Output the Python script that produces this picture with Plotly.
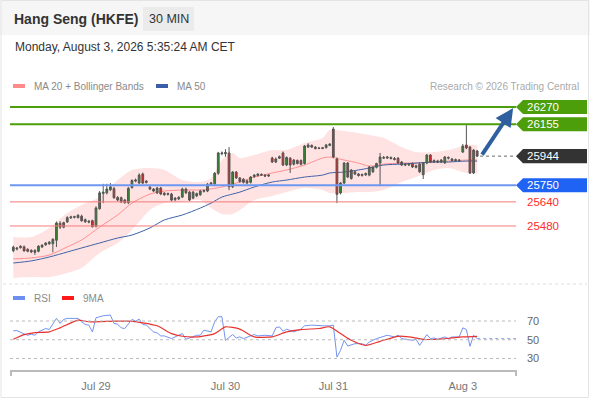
import plotly.graph_objects as go

# ---------------- data ----------------
opens = [25316,25327,25336,25342,25325,25318,25305,25312,25340,25355,25362,25362,25385,25498,25472,25507,25533,25538,25535,25545,
         25522,25512,25515,25478,25595,25695,25700,25720,25728,25670,25668,25652,25635,25735,25778,25765,25825,25778,25738,25725,
         25700,25732,25698,25690,25692,25655,25660,25672,25725,25705,25665,25680,25688,25710,25712,25758,25760,25830,25960,25960,
         25965,25740,25838,25799,25790,25780,25770,25808,25815,25822,25818,25812,25931,25905,25930,25965,25885,25930,25890,25915,
         25915,25895,26004,26015,26004,25998,25995,26000,26015,26124,25925,25699,25765,25898,25795,25840,25825,25815,25820,25818,
         25840,25870,25898,25935,25931,25935,25928,25930,25905,25890,25885,25895,25880,25891,25820,25898,25951,25905,25912,25905,
         25900,25930,25925,25915,25918,25971,26018,26004,25832,25978]
highs = [25350,25340,25352,25350,25332,25325,25325,25352,25360,25372,25380,25398,25510,25512,25508,25545,25548,25548,25558,25555,
         25530,25520,25522,25610,25712,25760,25760,25765,25740,25678,25675,25660,25740,25790,25795,25830,25835,25785,25745,25732,
         25740,25740,25705,25702,25700,25672,25678,25735,25735,25712,25712,25702,25720,25722,25765,25772,25838,25972,25975,25990,
         26004,25845,25845,25805,25798,25788,25812,25825,25830,25830,25825,25825,25940,25935,25948,25975,25942,25938,25925,25922,
         25922,26018,26030,26022,26010,26005,26005,26025,26030,26137,25935,25772,25905,25905,25858,25848,25832,25828,25835,25878,
         25876,25900,25965,25945,25945,25942,25938,25938,25912,25898,25898,25902,25888,25898,25905,25958,25958,25922,25920,25925,
         25945,25942,25932,25928,25925,26025,26150,26012,25990,25985]
lows = [25305,25318,25330,25310,25305,25300,25288,25305,25335,25348,25355,25305,25340,25460,25465,25500,25528,25530,25530,25508,
        25500,25498,25470,25470,25588,25632,25690,25712,25660,25645,25632,25628,25625,25728,25770,25760,25758,25762,25718,25705,
        25692,25685,25680,25682,25645,25645,25652,25665,25692,25645,25658,25672,25680,25702,25705,25750,25752,25820,25950,25940,
        25718,25732,25792,25768,25762,25758,25762,25800,25808,25812,25805,25805,25898,25898,25925,25878,25878,25832,25882,25888,
        25882,25888,25998,25998,25988,25990,25990,25995,26010,25930,25632,25690,25758,25798,25788,25818,25808,25808,25812,25810,
        25832,25862,25752,25925,25925,25922,25915,25892,25878,25878,25878,25865,25862,25832,25792,25890,25898,25898,25898,25898,
        25892,25922,25908,25908,25908,25965,25990,25825,25825,25938]
closes = [25339,25333,25345,25314,25312,25308,25318,25346,25352,25367,25372,25392,25500,25472,25502,25535,25540,25542,25551,25515,
          25508,25506,25475,25600,25700,25705,25726,25740,25668,25652,25640,25635,25730,25782,25785,25818,25765,25770,25725,25712,
          25732,25692,25688,25695,25652,25665,25670,25725,25700,25652,25705,25695,25712,25715,25758,25765,25830,25965,25965,25968,
          25740,25838,25799,25775,25770,25765,25805,25818,25825,25818,25812,25818,25905,25925,25940,25885,25935,25885,25918,25895,
          25890,26011,26018,26004,25995,25995,25999,26018,26024,25938,25690,25765,25898,25805,25852,25825,25815,25822,25828,25872,
          25870,25895,25938,25931,25938,25928,25922,25898,25885,25885,25890,25872,25870,25840,25898,25951,25905,25915,25905,25918,
          25938,25935,25915,25920,25915,26011,25998,25832,25984,25944]

# overlays read at sampled bar positions
ov_idx   = [0,5,10,15,19,24,29,33,38,42,47,52,55,58,61,63,67,72,76,81,86,88,92,96,99,103,108,112,117,121,126,129]
bb_upper = [25407,25407,25467,25566,25619,25672,25785,25852,25865,25852,25785,25772,25799,25918,25965,25931,25951,25984,25984,
            26031,26064,26117,26111,26097,26084,26064,26004,25971,25971,25984,26018,26018]
ma20     = [25261,25268,25287,25341,25387,25473,25553,25632,25692,25712,25719,25719,25726,25739,25759,25772,25805,25832,25852,
            25885,25931,25938,25918,25898,25878,25891,25898,25898,25905,25911,25918,25918]
bb_lower = [25135,25141,25141,25168,25201,25301,25367,25453,25586,25632,25639,25652,25599,25560,25560,25586,25652,25679,25705,
            25732,25719,25699,25699,25705,25705,25719,25772,25805,25852,25865,25832,25832]
ma50     = [25234,25248,25274,25307,25334,25367,25400,25420,25467,25520,25553,25599,25632,25672,25692,25705,25739,25772,25785,
            25805,25818,25832,25838,25852,25865,25885,25891,25898,25905,25905,25911,25911]

rsi_idx = [0,1,3,4,5,6,7,8,9,10,12,13,14,15,17,18,19,20,21,22,23,25,27,28,29,30,31,33,34,35,36,37,39,40,41,42,44,45,47,48,49,
           51,52,53,55,56,57,58,59,61,62,63,64,67,68,70,72,73,74,75,76,77,78,80,81,83,85,86,88,89,90,91,92,93,95,97,98,99,
           101,103,104,106,107,108,110,111,112,113,115,116,117,118,120,121,122,124,125,126,127,128,129]
rsi_val = [59.5,59.8,56.2,54.8,55.9,54.8,58.4,60.2,62.0,60.9,72.8,67.4,71.7,72.8,72.8,72.8,69.2,66.3,65.6,58.4,73.5,75.6,76.4,
           67.4,66.7,62.7,62.0,71.7,69.9,72.0,66.3,65.6,58.4,57.3,54.1,54.1,51.2,53.0,56.6,50.5,51.9,54.8,54.8,60.2,58.4,69.2,
           74.6,74.6,49.4,55.5,51.9,53.0,51.2,55.5,54.1,54.8,54.1,62.7,63.8,59.1,61.3,60.2,58.4,61.3,64.9,65.6,64.9,64.9,64.9,
           65.6,31.5,38.6,49.4,43.3,45.8,45.8,44.0,47.6,51.2,54.1,54.8,53.0,54.8,51.2,50.5,49.4,50.5,44.0,55.5,51.2,51.9,50.5,
           53.0,51.2,53.0,53.0,62.7,60.9,43.0,54.8,51.2]
ma9_idx = [0,3,6,10,13,18,21,28,32,36,40,44,47,51,56,59,63,67,72,76,80,85,88,91,94,98,102,107,110,114,118,122,125,129]
ma9_val = [50.5,55.5,57.7,58.4,62.7,71.0,69.2,69.9,69.9,68.1,64.9,56.6,53.7,53.0,56.6,63.8,61.3,53.0,53.0,58.4,60.9,62.0,63.8,
           56.6,49.4,44.0,48.3,53.7,53.0,50.5,50.5,51.9,53.0,53.7]

tick_idx = [23, 59, 89, 125]
tick_txt = ["Jul 29", "Jul 30", "Jul 31", "Aug 3"]

res_levels = [26270, 26155]
piv_level = 25750
sup_levels = [25640, 25480]
last_price = 25944
target_idx = 139.0
target_price = 26263

# ---------------- layout helpers (pixel placement) ----------------
L, R, T, B = 10, 516, 95, 370
def px(X):
    return (X - L) / (R - L)
def py(Y):
    return (B - Y) / (B - T)

FONT = "Liberation Sans, Arial, sans-serif"
n = len(closes)
xs = list(range(n))
XR = [-0.92, 139.8]
YR = [25088, 26350]

fig = go.Figure()

# Bollinger band + MAs on base price subplot
fig.add_trace(go.Scatter(x=ov_idx, y=bb_upper, mode="lines", line=dict(width=0, shape="spline", smoothing=0.8),
                         xaxis="x", yaxis="y", hoverinfo="skip", showlegend=False))
fig.add_trace(go.Scatter(x=ov_idx, y=bb_lower, mode="lines", line=dict(width=0, shape="spline", smoothing=0.8),
                         fill="tonexty", fillcolor="#ffe2e2", xaxis="x", yaxis="y", hoverinfo="skip", showlegend=False))
fig.add_trace(go.Scatter(x=ov_idx, y=ma20, mode="lines", line=dict(width=1, color="#ff8f8f", shape="spline", smoothing=0.8),
                         xaxis="x", yaxis="y", hoverinfo="skip", showlegend=False))
fig.add_trace(go.Scatter(x=ov_idx, y=ma50, mode="lines", line=dict(width=1, color="#3f63a8", shape="spline", smoothing=0.8),
                         xaxis="x", yaxis="y", hoverinfo="skip", showlegend=False))

# candles on an overlaying subplot so they sit above the band
fig.add_trace(go.Candlestick(x=xs, open=opens, high=highs, low=lows, close=closes,
                             increasing=dict(fillcolor="#2e8a2e", line=dict(color="#555555", width=1)),
                             decreasing=dict(fillcolor="#e5221c", line=dict(color="#555555", width=1)),
                             whiskerwidth=0, xaxis="x3", yaxis="y3", showlegend=False))

# last price dotted extension
fig.add_trace(go.Scatter(x=[n - 0.2, XR[1]], y=[last_price, last_price], mode="lines",
                         line=dict(color="#666666", width=1, dash="dot"), xaxis="x3", yaxis="y3",
                         hoverinfo="skip", showlegend=False))

# RSI
fig.add_trace(go.Scatter(x=rsi_idx, y=rsi_val, mode="lines", line=dict(color="#7393f0", width=1),
                         xaxis="x2", yaxis="y2", hoverinfo="skip", showlegend=False))
fig.add_trace(go.Scatter(x=ma9_idx, y=ma9_val, mode="lines", line=dict(color="#e8332f", width=1.2, shape="spline", smoothing=0.6),
                         xaxis="x2", yaxis="y2", hoverinfo="skip", showlegend=False))
fig.add_trace(go.Scatter(x=[rsi_idx[-1], XR[1]], y=[rsi_val[-1], rsi_val[-1]], mode="lines",
                         line=dict(color="#8aa3f0", width=1, dash="dot"), xaxis="x2", yaxis="y2",
                         hoverinfo="skip", showlegend=False))

shapes = []
ann = []

# background header band and frame
shapes.append(dict(type="rect", xref="paper", yref="paper", x0=px(0), x1=px(590), y0=py(35), y1=py(0),
                   fillcolor="#f6f6f6", line=dict(width=0), layer="below"))
shapes.append(dict(type="rect", xref="paper", yref="paper", x0=px(1), x1=px(588.5), y0=py(397.5), y1=py(0.5),
                   fillcolor="rgba(0,0,0,0)", line=dict(color="#e4e4e4", width=1), layer="below"))
shapes.append(dict(type="rect", xref="paper", yref="paper", x0=px(143), x1=px(194), y0=py(31), y1=py(7),
                   fillcolor="#ebebeb", line=dict(width=0), layer="below"))
# panel separator
shapes.append(dict(type="line", xref="paper", yref="paper", x0=px(3), x1=px(587), y0=py(284), y1=py(284),
                   line=dict(color="#dddddd", width=1, dash="dot")))

# horizontal levels
for lv in res_levels:
    shapes.append(dict(type="line", xref="paper", yref="y", x0=0, x1=1, y0=lv, y1=lv,
                       line=dict(color="#4c9e0a", width=2)))
shapes.append(dict(type="line", xref="paper", yref="y", x0=0, x1=1, y0=piv_level, y1=piv_level,
                   line=dict(color="#6e97f2", width=2)))
for lv in sup_levels:
    shapes.append(dict(type="line", xref="paper", yref="y", x0=0, x1=1, y0=lv, y1=lv,
                       line=dict(color="#f47b7b", width=1)))

# tags on the right
H = 46.5
def tag(level, color):
    path = (f"M {px(516)},{level} L {px(523)},{level + H} L {px(587)},{level + H} "
            f"L {px(587)},{level - H} L {px(523)},{level - H} Z")
    shapes.append(dict(type="path", xref="paper", yref="y", path=path, fillcolor=color, line=dict(width=0)))
    ann.append(dict(xref="paper", yref="y", x=px(525), y=level, text=str(level), showarrow=False,
                    xanchor="left", yanchor="middle", font=dict(color="white", size=11.5, family=FONT)))

for lv in res_levels:
    tag(lv, "#4c9e0a")
tag(last_price, "#333333")
tag(piv_level, "#1f63f5")
for lv in sup_levels:
    ann.append(dict(xref="paper", yref="y", x=px(525), y=lv, text=str(lv), showarrow=False,
                    xanchor="left", yanchor="middle", font=dict(color="#ff2a2a", size=11.5, family=FONT)))

# arrow
ann.append(dict(xref="x", yref="y", x=target_idx, y=target_price, axref="x", ayref="y",
                ax=n + 0.1, ay=last_price, text="", showarrow=True, arrowhead=2, arrowsize=0.9,
                arrowwidth=4, arrowcolor="#2f5f9f", standoff=0))

# RSI grid lines and labels
for v in [70, 50, 30]:
    shapes.append(dict(type="line", xref="paper", yref="y2", x0=0, x1=1, y0=v, y1=v,
                       line=dict(color="#bbbbbb", width=1, dash="dot")))
    ann.append(dict(xref="paper", yref="y2", x=px(525), y=v, text=str(v), showarrow=False,
                    xanchor="left", yanchor="middle", font=dict(color="#666666", size=11, family=FONT)))

# axis end ticks
for X in [11, 516]:
    shapes.append(dict(type="line", xref="paper", yref="paper", x0=px(X), x1=px(X), y0=py(370), y1=py(376),
                       line=dict(color="#bbbbbb", width=2)))

# header texts
ann.append(dict(xref="paper", yref="paper", x=px(12), y=py(19), text="<b>Hang Seng (HKFE)</b>", showarrow=False,
                xanchor="left", yanchor="middle", font=dict(color="#333333", size=14, family=FONT)))
ann.append(dict(xref="paper", yref="paper", x=px(168.5), y=py(19), text="30 MIN", showarrow=False,
                xanchor="center", yanchor="middle", font=dict(color="#333333", size=12.5, family=FONT)))
ann.append(dict(xref="paper", yref="paper", x=px(13), y=py(47), text="Monday, August 3, 2026 5:35:24 AM CET",
                showarrow=False, xanchor="left", yanchor="middle", font=dict(color="#333333", size=12, family=FONT)))

# legends
shapes.append(dict(type="rect", xref="paper", yref="paper", x0=px(13), x1=px(25), y0=py(88), y1=py(84),
                   fillcolor="#ff8a8a", line=dict(width=0)))
ann.append(dict(xref="paper", yref="paper", x=px(32), y=py(86), text="MA 20 + Bollinger Bands", showarrow=False,
                xanchor="left", yanchor="middle", font=dict(color="#8a8a8a", size=10, family=FONT)))
shapes.append(dict(type="rect", xref="paper", yref="paper", x0=px(156), x1=px(168), y0=py(88), y1=py(84),
                   fillcolor="#3a5fa8", line=dict(width=0)))
ann.append(dict(xref="paper", yref="paper", x=px(175), y=py(86), text="MA 50", showarrow=False,
                xanchor="left", yanchor="middle", font=dict(color="#8a8a8a", size=10, family=FONT)))
ann.append(dict(xref="paper", yref="paper", x=px(581), y=py(86), text="Research © 2026 Trading Central",
                showarrow=False, xanchor="right", yanchor="middle", font=dict(color="#aaaaaa", size=10, family=FONT)))

shapes.append(dict(type="rect", xref="paper", yref="paper", x0=px(13), x1=px(25), y0=py(300), y1=py(296),
                   fillcolor="#6f8ff0", line=dict(width=0)))
ann.append(dict(xref="paper", yref="paper", x=px(32), y=py(298), text="RSI", showarrow=False,
                xanchor="left", yanchor="middle", font=dict(color="#8a8a8a", size=10, family=FONT)))
shapes.append(dict(type="rect", xref="paper", yref="paper", x0=px(62), x1=px(74), y0=py(300), y1=py(296),
                   fillcolor="#ff1a1a", line=dict(width=0)))
ann.append(dict(xref="paper", yref="paper", x=px(81), y=py(298), text="9MA", showarrow=False,
                xanchor="left", yanchor="middle", font=dict(color="#8a8a8a", size=10, family=FONT)))

price_dom = [py(285), 1.0]
rsi_dom = [0.0, py(305)]

fig.update_layout(
    width=590, height=400,
    margin=dict(l=L, r=590 - R, t=T, b=400 - B, pad=0, autoexpand=False),
    paper_bgcolor="white", plot_bgcolor="rgba(0,0,0,0)",
    font=dict(family=FONT),
    showlegend=False,
    hovermode=False,
    xaxis=dict(domain=[0, 1], range=XR, anchor="y", visible=False, fixedrange=True),
    yaxis=dict(domain=price_dom, range=YR, visible=False, fixedrange=True),
    xaxis3=dict(range=XR, overlaying="x", anchor="y3", visible=False, rangeslider=dict(visible=False),
                fixedrange=True),
    yaxis3=dict(range=YR, overlaying="y", anchor="x3", visible=False, fixedrange=True),
    xaxis2=dict(domain=[0, 1], range=XR, anchor="y2", showgrid=False, zeroline=False,
                showline=True, linecolor="#bbbbbb", linewidth=2, ticks="",
                tickmode="array", tickvals=tick_idx, ticktext=tick_txt,
                tickfont=dict(color="#777777", size=11, family=FONT), ticklabelstandoff=5, fixedrange=True),
    yaxis2=dict(domain=rsi_dom, range=[17.7, 87.1], visible=False, fixedrange=True),
    shapes=shapes,
    annotations=ann,
)

fig.write_html("out.html", config=dict(displayModeBar=False, staticPlot=True),
               post_script="document.body.style.margin='0';")
